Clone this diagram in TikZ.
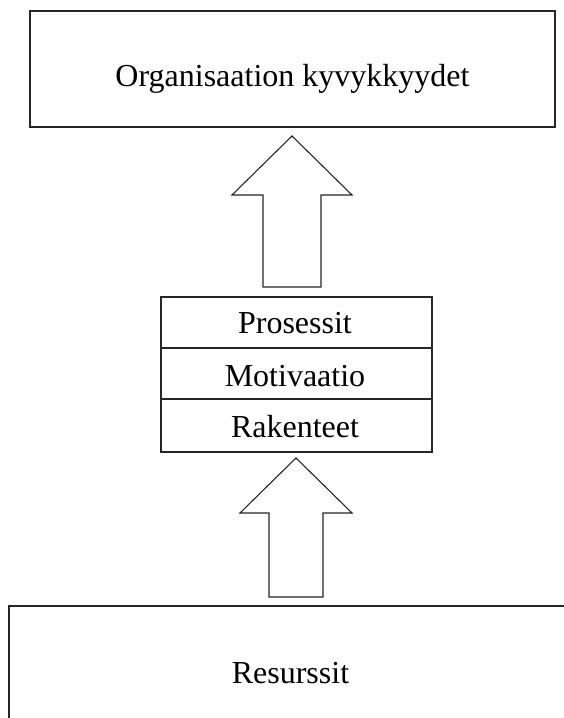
\documentclass[tikz,border=0pt]{standalone}
\usepackage{fontspec}
\setmainfont{Liberation Serif}
\usepackage{tikz}

\tikzset{
  laatikko/.style={draw=black!85,line width=1.1pt},
  nuoli/.style={draw=black!85,line width=1.1pt,line join=miter,fill=white},
  teksti/.style={anchor=base,inner sep=0pt,font=\fontsize{32}{38}\selectfont}
}

\begin{document}
\begin{tikzpicture}[x=1pt,y=-1pt]

\useasboundingbox (0,0) rectangle (564,718);
\clip (0,0) rectangle (564,718);

% ylin laatikko
\draw[laatikko] (30,11) rectangle (555,127);
\node[teksti] (kyvyt) at (292.5,86) {Organisaation kyvykkyydet};

% ylempi nuoli
\draw[nuoli] (292,136) -- (352,195) -- (321,195) -- (321,287) -- (263,287)
   -- (263,195) -- (232,195) -- cycle;

% keskimmainen pino
\draw[laatikko] (161,297) rectangle (432,452);
\draw[laatikko] (161,348) -- (432,348);
\draw[laatikko] (161,399) -- (432,399);
\node[teksti] (prosessit) at (295,333) {Prosessit};
\node[teksti] (motivaatio) at (295,386) {Motivaatio};
\node[teksti] (rakenteet) at (295,437) {Rakenteet};

% alempi nuoli
\draw[nuoli] (296,458) -- (352,513) -- (323,513) -- (323,597) -- (269,597)
   -- (269,513) -- (240,513) -- cycle;

% alin laatikko
\draw[laatikko] (9,606) rectangle (580,740);
\node[teksti] (resurssit) at (290.5,683) {Resurssit};

\end{tikzpicture}
\end{document}
